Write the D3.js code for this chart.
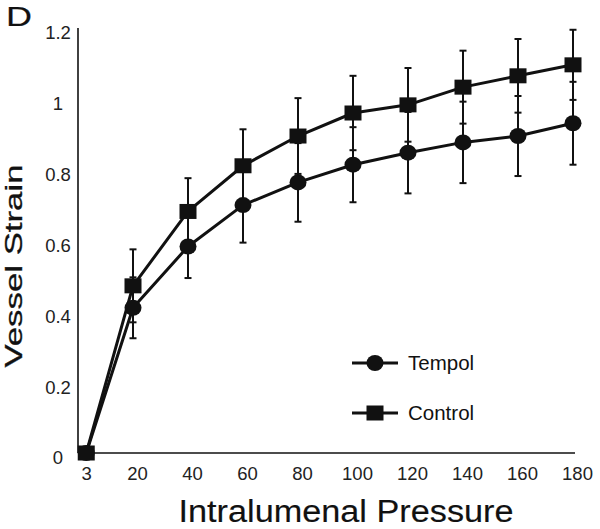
<!DOCTYPE html>
<html>
<head>
<meta charset="utf-8">
<script src="https://cdn.jsdelivr.net/npm/d3@7"></script>
<style>
  html, body { margin: 0; padding: 0; background: #fff; }
  svg { display: block; font-family: "Liberation Sans", Arial, sans-serif; }
</style>
</head>
<body>
<svg id="chart" width="600" height="529"></svg>
<script>
// ---- data ----
const pressures = [3, 20, 40, 60, 80, 100, 120, 140, 160, 180];
const controlValues = [0, 0.472, 0.682, 0.811, 0.895, 0.960, 0.983, 1.033, 1.065, 1.096];
const controlErrors = [0, 0.103, 0.094, 0.103, 0.107, 0.105, 0.104, 0.103, 0.104, 0.099];
const tempolValues = [0, 0.410, 0.583, 0.700, 0.764, 0.814, 0.848, 0.877, 0.895, 0.931];
const tempolErrors = [0, 0.086, 0.089, 0.106, 0.111, 0.106, 0.115, 0.115, 0.113, 0.117];
const yTicks = [0, 0.2, 0.4, 0.6, 0.8, 1, 1.2];
const seriesNames = ["Tempol", "Control"];

const svg = d3.select("#chart");
const x = d3.scaleLinear().domain([0, 180]).range([78, 573]);
const y = d3.scaleLinear().domain([0, 1.2]).range([453, 28]);
const ink = "#111";

// axes
const yAxis = svg.append("g").attr("transform", `translate(${x(0)},0)`)
  .call(d3.axisLeft(y).tickValues(yTicks).tickSize(0).tickFormat(d => String(+d.toFixed(1))));
yAxis.select(".domain").remove();
yAxis.selectAll("text").attr("x", -20).attr("dy", "0.32em").attr("transform", "translate(0,5)")
  .attr("text-anchor", "middle").attr("font-size", 18.5).attr("fill", "#222")
  .attr("font-family", "Liberation Sans, Arial, sans-serif");

const xAxis = svg.append("g").attr("transform", `translate(0,${y(0)})`)
  .call(d3.axisBottom(x).tickValues(pressures).tickSize(0).tickFormat(d => String(d)));
xAxis.select(".domain").remove();
xAxis.selectAll("text").attr("y", 21).attr("dy", "0.35em").attr("dx", d => d === 3 ? 0 : 4)
  .attr("font-size", 18.5).attr("fill", "#222")
  .attr("font-family", "Liberation Sans, Arial, sans-serif");

svg.append("line").attr("x1", x(0)).attr("x2", x(0)).attr("y1", y(1.2)).attr("y2", y(0))
  .attr("stroke", ink).attr("stroke-width", 1.6);
svg.append("line").attr("x1", x(0)).attr("x2", x(180) + 2).attr("y1", y(0)).attr("y2", y(0))
  .attr("stroke", ink).attr("stroke-width", 1.6);

// titles
svg.append("text").attr("x", 346).attr("y", 522).attr("text-anchor", "middle")
  .attr("font-size", 31).attr("fill", "#111").attr("stroke", "#111").attr("stroke-width", 0.15)
  .attr("textLength", 335).attr("lengthAdjust", "spacingAndGlyphs")
  .text("Intralumenal Pressure");
svg.append("text").attr("transform", "translate(22,266) rotate(-90)").attr("text-anchor", "middle")
  .attr("font-size", 24).attr("fill", "#111").attr("stroke", "#111").attr("stroke-width", 0.3)
  .attr("textLength", 203).attr("lengthAdjust", "spacingAndGlyphs")
  .text("Vessel Strain");
svg.append("text").attr("x", 6).attr("y", 26).attr("font-size", 28).attr("fill", "#111")
  .attr("stroke", "#111").attr("stroke-width", 0.2)
  .attr("textLength", 26).attr("lengthAdjust", "spacingAndGlyphs")
  .text("D");

// series
const series = [
  { name: seriesNames[0], values: tempolValues, errors: tempolErrors, shape: "circle" },
  { name: seriesNames[1], values: controlValues, errors: controlErrors, shape: "square" }
];

function drawMarker(g, shape, cx, cy) {
  if (shape === "circle") {
    g.append("ellipse").attr("cx", cx).attr("cy", cy).attr("rx", 8.5).attr("ry", 8).attr("fill", ink);
  } else {
    g.append("rect").attr("x", cx - 8.5).attr("y", cy - 7.5).attr("width", 17).attr("height", 15).attr("fill", ink);
  }
}

// error bars
series.forEach(s => {
  const g = svg.append("g");
  pressures.forEach((p, i) => {
    if (s.errors[i] <= 0) return;
    const cx = x(p), lo = y(s.values[i] - s.errors[i]), hi = y(s.values[i] + s.errors[i]);
    g.append("line").attr("x1", cx).attr("x2", cx).attr("y1", lo).attr("y2", hi)
      .attr("stroke", ink).attr("stroke-width", 2);
    [lo, hi].forEach(yy => g.append("line").attr("x1", cx - 3.5).attr("x2", cx + 3.5)
      .attr("y1", yy).attr("y2", yy).attr("stroke", ink).attr("stroke-width", 2));
  });
});

// lines
const line = d3.line().x((d, i) => x(pressures[i])).y(d => y(d));
series.forEach(s => {
  svg.append("path").attr("d", line(s.values)).attr("fill", "none")
    .attr("stroke", ink).attr("stroke-width", 3).attr("stroke-linejoin", "round");
});

// markers
series.forEach(s => {
  const g = svg.append("g");
  pressures.forEach((p, i) => drawMarker(g, s.shape, x(p), y(s.values[i])));
});

// legend
const legendY = [363, 413];
series.forEach((s, k) => {
  const g = svg.append("g");
  g.append("line").attr("x1", 352).attr("x2", 398).attr("y1", legendY[k]).attr("y2", legendY[k])
    .attr("stroke", ink).attr("stroke-width", 3);
  drawMarker(g, s.shape, 375, legendY[k]);
  g.append("text").attr("x", 408).attr("y", legendY[k]).attr("dy", "0.36em")
    .attr("font-size", 20.5).attr("fill", "#111").text(s.name);
});
</script>
</body>
</html>
